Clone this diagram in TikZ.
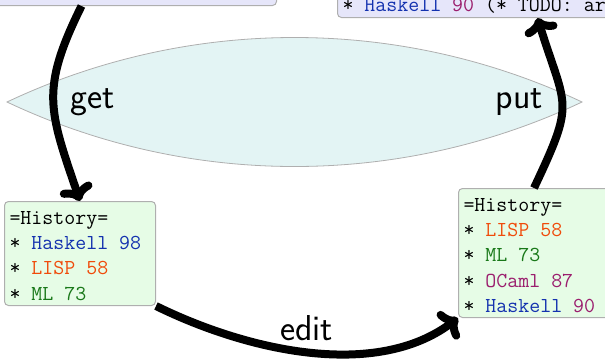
\documentclass[tikz,border=0pt]{standalone}
\usepackage{fontspec}
\usetikzlibrary{arrows.meta}
\definecolor{hask}{RGB}{20,50,175}
\definecolor{lisp}{RGB}{240,75,10}
\definecolor{mlc}{RGB}{25,120,25}
\definecolor{ocaml}{RGB}{155,30,110}
\definecolor{lav}{RGB}{230,230,250}
\definecolor{mint}{RGB}{230,252,230}
\definecolor{lensfill}{RGB}{227,244,244}
\definecolor{edge}{RGB}{175,175,175}
\tikzset{
  doc/.style={draw=edge, line width=1pt, rounded corners=4pt, inner sep=0pt, anchor=north west},
  codetext/.style={inner sep=0pt, anchor=base west, font=\fontsize{21.3}{25.3}\selectfont\ttfamily},
  lbl/.style={inner sep=0pt, font=\fontsize{36}{42}\selectfont\sffamily},
  flow/.style={line width=8pt, -{Computer Modern Rightarrow[length=16pt,width=34pt]}}
}
\begin{document}
\begin{tikzpicture}[x=1pt,y=-1pt]
\useasboundingbox (0,0) rectangle (605,360);
\clip (0,0) rectangle (605,360);
% lens
\path[draw=edge, fill=lensfill, line width=0.8pt] (7,102) .. controls (189,16) and (400,16) .. (582,102) .. controls (400,188) and (189,188) .. (7,102) -- cycle;
% boxes
\node[doc, fill=lav, minimum width=390pt, minimum height=155pt] (src) at (-114,-150) {};
\node[doc, fill=lav, minimum width=400pt, minimum height=167pt] (tr) at (337,-150) {};
\node[doc, fill=mint, minimum width=151pt, minimum height=104pt] (old) at (4,201) {};
\node[doc, fill=mint, minimum width=151pt, minimum height=129pt] (rnew) at (458,188) {};
% texts
\node[codetext] (trtxt) at (342.3,11.7) {\hbox{* \textcolor{hask}{Haskell} \textcolor{ocaml}{90} (* TODO: ar}};
\node[codetext] (oldtxt) at (9.3,224.3) {\vtop{\hbox{=History=}\hbox{* \textcolor{hask}{Haskell 98}}\hbox{* \textcolor{lisp}{LISP 58}}\hbox{* \textcolor{mlc}{ML 73}}}};
\node[codetext] (newtxt) at (463.3,211.3) {\vtop{\hbox{=History=}\hbox{* \textcolor{lisp}{LISP 58}}\hbox{* \textcolor{mlc}{ML 73}}\hbox{* \textcolor{ocaml}{OCaml 87}}\hbox{* \textcolor{hask}{Haskell} \textcolor{ocaml}{90}}}};
% arrows
\draw[flow] (src.south) .. controls (40,90) and (49,110) .. (old.north);
\draw[flow] (rnew.north) .. controls (576,99) and (566,110) .. (tr.south);
\draw[flow] (old.south east) .. controls (247.5,351) and (376,380) .. (rnew.south west);
% labels
\node[lbl, anchor=base west] (get) at (70,108) {get};
\node[lbl, anchor=base east] (put) at (543,108) {put};
\node[lbl, anchor=base] (edit) at (306.5,340) {edit};
\end{tikzpicture}
\end{document}
